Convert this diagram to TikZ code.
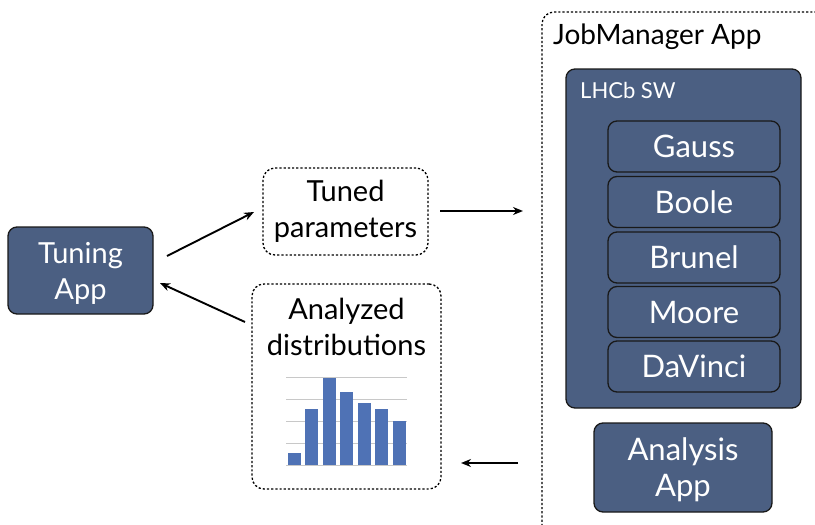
\documentclass[tikz,border=0pt]{standalone}
\usepackage{fontspec}
\setmainfont{Lato}
\usetikzlibrary{arrows.meta}
\definecolor{slate}{HTML}{4B5F82}
\definecolor{barblue}{HTML}{4F72B5}
\definecolor{gridgrey}{HTML}{C8C8C8}
\tikzset{
  appbox/.style={draw=black!90, line width=1.3pt, fill=slate, rounded corners=9pt, text=white, align=center, inner sep=0pt},
  dashbox/.style={draw=black, line width=1.3pt, dash pattern=on 2.2pt off 2pt, rounded corners=12pt, align=center, inner sep=0pt},
  conn/.style={-{Stealth[length=10pt,width=8pt]}, line width=1.9pt},
  big/.style={font=\fontsize{29}{36}\selectfont},
  bigger/.style={font=\fontsize{31}{36}\selectfont},
}
\begin{document}
\begin{tikzpicture}[x=1pt,y=-1pt]
\useasboundingbox (0,0) rectangle (815,525);
% Tuning App
\node[appbox, minimum width=145pt, minimum height=87pt] (tuning) at (80.5,270.5) {};
\node[big, text=white, align=center] (tuningtext) at (80.5,273) {Tuning\\App};
% Tuned parameters
\node[dashbox, big, minimum width=165pt, minimum height=87pt] (tuned) at (345.5,211.5) {Tuned\\parameters};
% Analyzed distributions
\node[dashbox, minimum width=189pt, minimum height=205pt] (analyzed) at (346.5,386.5) {};
\node[big, align=center] (antext) at (346.5,327) {Analyzed\\distributions};
% chart
\foreach \yy in {377.7,399.3,421.7,443.7,465.3}
  \draw[gridgrey, line width=1pt] (286,\yy) -- (407,\yy);
\foreach \xa/\xb/\top in {287.7/300.7/452.7, 305/318/408.7, 322.7/336/377.7, 340/353.3/392.3, 357.7/371/402.7, 375/388.3/408.7, 392.7/406/421.3}
  \fill[barblue] (\xa,465.3) rectangle (\xb,\top);
% JobManager App
\draw[line width=1.3pt, dash pattern=on 2.2pt off 2pt, rounded corners=12pt] (542,526) -- (542,12) -- (816,12);
\node[font=\fontsize{28}{32}\selectfont, anchor=west, inner sep=0pt] (jm) at (553,37) {JobManager App};
% LHCb SW
\node[appbox, minimum width=235pt, minimum height=339pt] (lhcb) at (683.5,238.5) {};
\node[text=white, font=\fontsize{22}{26}\selectfont, anchor=west, inner sep=0pt] (lhcblbl) at (580,90) {LHCb SW};
\node[appbox, bigger, minimum width=172pt, minimum height=51pt] (gauss) at (694,146.5) {Gauss};
\node[appbox, bigger, minimum width=172pt, minimum height=51pt] (boole) at (694,202) {Boole};
\node[appbox, bigger, minimum width=172pt, minimum height=51pt] (brunel) at (694,257.5) {Brunel};
\node[appbox, bigger, minimum width=172pt, minimum height=51pt] (moore) at (694,312) {Moore};
\node[appbox, bigger, minimum width=172pt, minimum height=51pt] (davinci) at (694,366.5) {DaVinci};
% Analysis App
\node[appbox, minimum width=178pt, minimum height=89pt] (analysis) at (683,467.5) {};
\node[bigger, text=white, align=center] (analysistext) at (683,470) {Analysis\\App};
% connectors
\coordinate (a1s) at (167,256);
\coordinate (a1e) at (254,212);
\draw[conn] (a1s) -- (a1e);
\coordinate (a2s) at (245,322);
\coordinate (a2e) at (160,283);
\draw[conn] (a2s) -- (a2e);
\coordinate (a3s) at (440,211);
\coordinate (a3e) at (523,211);
\draw[conn] (a3s) -- (a3e);
\coordinate (a4s) at (518,463);
\coordinate (a4e) at (461,463);
\draw[conn] (a4s) -- (a4e);
\end{tikzpicture}
\end{document}
